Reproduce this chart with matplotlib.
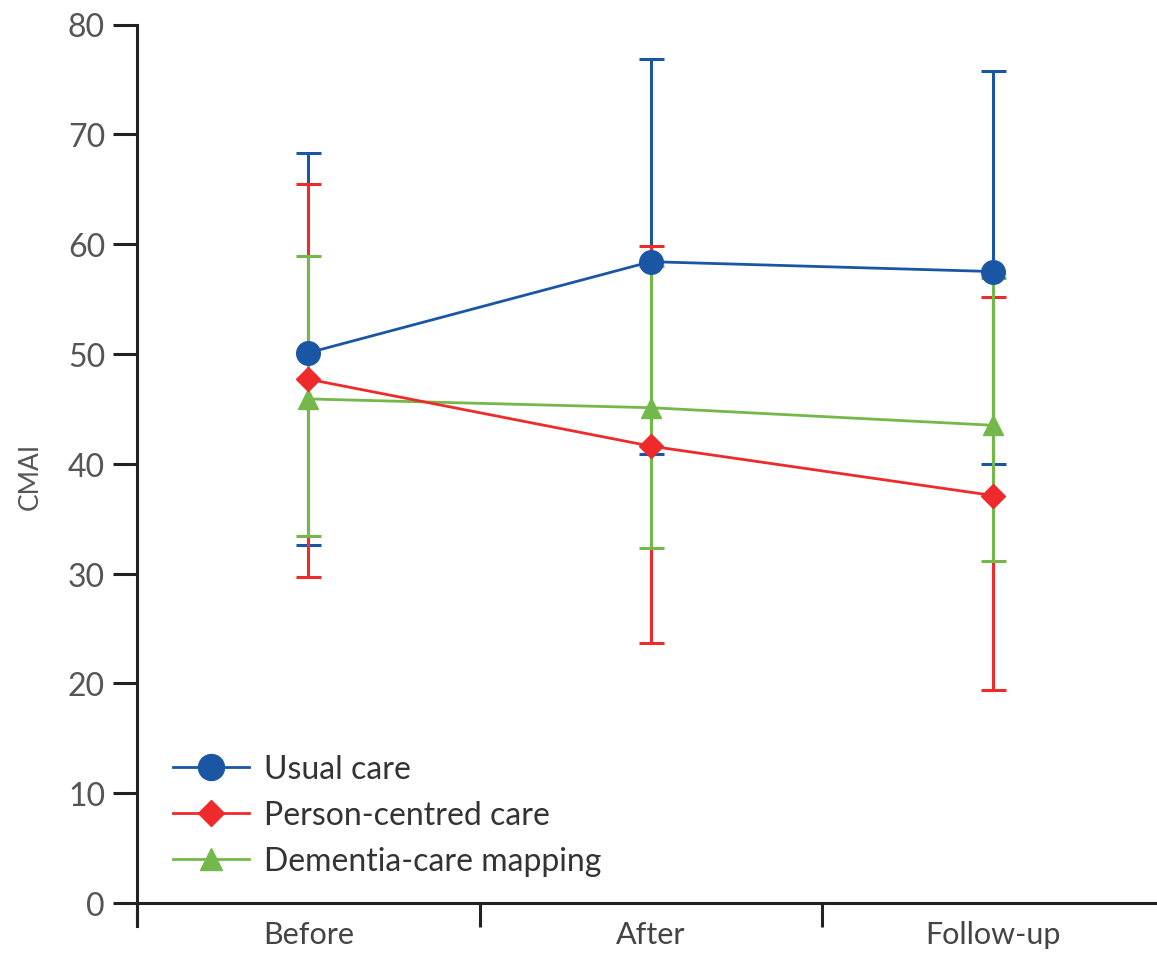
import numpy as np
import matplotlib
matplotlib.use("Agg")
import matplotlib.pyplot as plt

plt.rcParams["font.family"] = ["Lato", "DejaVu Sans"]

timepoints = ["Before", "After", "Follow-up"]

# mean, upper and lower error bar ends
usual_mean = [50.1, 58.4, 57.5]
usual_hi = [68.3, 76.9, 75.8]
usual_lo = [32.6, 40.9, 40.0]

pcc_mean = [47.7, 41.6, 37.1]
pcc_hi = [65.5, 59.8, 55.2]
pcc_lo = [29.7, 23.7, 19.4]

dcm_mean = [45.9, 45.1, 43.5]
dcm_hi = [58.9, 58.0, 56.9]
dcm_lo = [33.4, 32.3, 31.1]

yticks = [0, 10, 20, 30, 40, 50, 60, 70, 80]

blue = "#1b56a5"
red = "#ee2a2b"
green = "#74b84b"

fig = plt.figure(figsize=(11.57, 9.54), dpi=100)
ax = fig.add_axes([137 / 1157, 1 - 927 / 954, 1 - 137 / 1157, (927 - 25.5) / 954])

x = np.arange(len(timepoints)) + 0.5

series = [
    ("Usual care", usual_mean, usual_hi, usual_lo, blue, "o", 17),
    ("Person-centred care", pcc_mean, pcc_hi, pcc_lo, red, "D", 12),
    ("Dementia-care mapping", dcm_mean, dcm_hi, dcm_lo, green, "^", 14),
]

# error bars first
for name, m, hi, lo, col, mk, ms in series:
    m = np.array(m)
    err = [m - np.array(lo), np.array(hi) - m]
    ax.errorbar(x, m, yerr=err, fmt="none", ecolor=col, elinewidth=2.2,
                capsize=9, capthick=2.2, zorder=2)

# lines + markers, blue on top
zs = {"Usual care": 5, "Person-centred care": 4, "Dementia-care mapping": 3}
handles = []
for name, m, hi, lo, col, mk, ms in series:
    h, = ax.plot(x, m, color=col, lw=2.0, marker=mk, markersize=ms,
                 markeredgecolor=col, label=name, zorder=zs[name])
    handles.append(h)

ax.set_xlim(0, (1157 - 137) / 342.5)
ax.set_ylim(-2.1, 80)

ax.spines["top"].set_visible(False)
ax.spines["right"].set_visible(False)
ax.spines["bottom"].set_position(("data", 0))
for s in ["left", "bottom"]:
    ax.spines[s].set_linewidth(2.2)
    ax.spines[s].set_color("#222222")

ax.set_yticks(yticks)
ax.set_yticklabels([str(t) for t in yticks], fontsize=23, color="#555555")
ax.tick_params(axis="y", length=17, width=2.2, color="#222222", pad=6)

ax.set_xticks([0, 1, 2])
ax.set_xticklabels([])
ax.tick_params(axis="x", which="major", direction="out", length=17, width=2.2,
               color="#222222")
ax.set_xticks(x, minor=True)
ax.set_xticklabels(timepoints, minor=True, fontsize=22, color="#444444")
ax.tick_params(axis="x", which="minor", length=0, pad=12)

ax.set_ylabel("CMAI", fontsize=19, color="#555555", labelpad=18)

leg = ax.legend(handles=handles, loc="lower left", bbox_to_anchor=(0.035, 0.055),
                frameon=False, fontsize=23, handlelength=2.4, handletextpad=0.45,
                labelspacing=0.5, borderaxespad=0, borderpad=0, markerscale=1.1)
for t in leg.get_texts():
    t.set_color("#333333")

fig.savefig("out.png", dpi=100)
